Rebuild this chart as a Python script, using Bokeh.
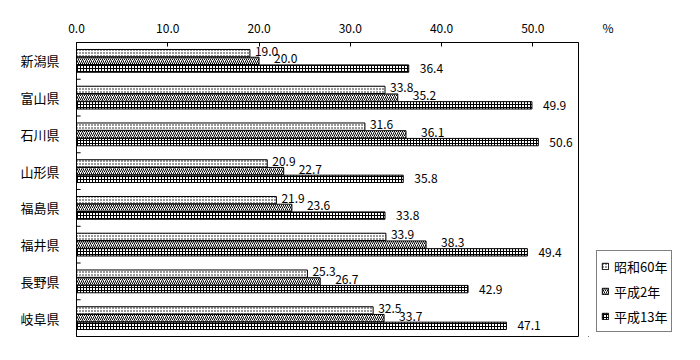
from bokeh.plotting import figure
from bokeh.layouts import row
from bokeh.models import (Range1d, FactorRange, ColumnDataSource, Legend, LegendItem,
                          FixedTicker, NumeralTickFormatter)
from bokeh.transform import dodge
from bokeh.core.properties import value
from bokeh.embed import file_html
from bokeh.resources import INLINE

categories = ["新潟県", "富山県", "石川県", "山形県", "福島県", "福井県", "長野県", "岐阜県"]
series_names = ["昭和60年", "平成2年", "平成13年"]
s60 = [19.0, 33.8, 31.6, 20.9, 21.9, 33.9, 25.3, 32.5]
h2 = [20.0, 35.2, 36.1, 22.7, 23.6, 38.3, 26.7, 33.7]
h13 = [36.4, 49.9, 50.6, 35.8, 33.8, 49.4, 42.9, 47.1]
x_ticks = [0, 10, 20, 30, 40, 50]
unit_label = "%"

JP = value("Noto Sans CJK JP")
H = 360
W_MAIN = 588
W_SIDE = 700 - W_MAIN
B_TOP, B_BOTTOM = 42, 24

src = ColumnDataSource(dict(
    cat=categories, v1=s60, v2=h2, v3=h13,
    t1=["%.1f" % v for v in s60], t2=["%.1f" % v for v in h2], t3=["%.1f" % v for v in h13],
))

p = figure(width=W_MAIN, height=H,
           x_range=Range1d(0, 55), y_range=FactorRange(factors=categories[::-1]),
           x_axis_location="above", output_backend="svg", toolbar_location=None,
           min_border_left=76, min_border_right=10, min_border_top=B_TOP, min_border_bottom=B_BOTTOM)

p.outline_line_color = "black"
p.outline_line_width = 1
p.xgrid.grid_line_color = None
p.ygrid.grid_line_color = None

p.xaxis.ticker = FixedTicker(ticks=x_ticks)
p.xaxis.formatter = NumeralTickFormatter(format="0.0")
p.xaxis.major_tick_in = 4
p.xaxis.major_tick_out = 0
p.xaxis.minor_tick_line_color = None
p.xaxis.major_label_standoff = 10
p.xaxis.major_label_text_font = "Noto Sans CJK JP"
p.xaxis.major_label_text_font_size = "12px"
p.xaxis.major_label_text_color = "black"
p.xaxis.axis_line_color = "black"

p.yaxis.major_tick_line_color = None
p.yaxis.minor_tick_line_color = None
p.yaxis.major_label_standoff = 11
p.yaxis.major_label_text_font = "Noto Sans CJK JP"
p.yaxis.major_label_text_font_size = "13px"
p.yaxis.major_label_text_color = "black"
p.yaxis.axis_line_color = "black"

step = 0.21
bh = 0.2
styles = [dict(hatch_pattern="dot", hatch_scale=3),
          dict(hatch_pattern="right_diagonal_line", hatch_scale=4),
          dict(hatch_pattern="cross", hatch_scale=3)]
base = dict(fill_color="white", line_color="black", line_width=1,
            hatch_color="black", hatch_weight=1)

p.hbar(y=dodge("cat", step, range=p.y_range), right="v1", left=0, height=bh, source=src, **base, **styles[0])
p.hbar(y=dodge("cat", 0, range=p.y_range), right="v2", left=0, height=bh, source=src, **base, **styles[1])
p.hbar(y=dodge("cat", -step, range=p.y_range), right="v3", left=0, height=bh, source=src, **base, **styles[2])

tcommon = dict(text_font=JP, text_font_size="12px", text_color="black",
               text_baseline="middle", text_align="left", source=src)
p.text(x="v1", y=dodge("cat", step, range=p.y_range), text="t1", x_offset=5, y_offset=-2, **tcommon)
p.text(x="v2", y=dodge("cat", 0, range=p.y_range), text="t2", x_offset=15, y_offset=-2, **tcommon)
p.text(x="v3", y=dodge("cat", -step, range=p.y_range), text="t3", x_offset=11, y_offset=0, **tcommon)

# small inward ticks at category boundaries on the left axis
nb = len(categories) - 1
bsrc = ColumnDataSource(dict(bcat=categories[:-1], x0=[0] * nb, x1=[0.45] * nb))
p.segment(x0="x0", x1="x1", y0=dodge("bcat", -0.5, range=p.y_range),
          y1=dodge("bcat", -0.5, range=p.y_range), line_color="black", line_width=1, source=bsrc)

# side panel: unit label (as title) and legend
s = figure(width=W_SIDE, height=H, x_range=Range1d(0, 1), y_range=Range1d(0, 1),
           x_axis_type=None, y_axis_type=None,
           output_backend="svg", toolbar_location=None, title=unit_label,
           min_border_left=0, min_border_right=0, min_border_top=B_TOP, min_border_bottom=B_BOTTOM)
s.grid.grid_line_color = None
s.outline_line_color = None
s.title.text_font = "Noto Sans CJK JP"
s.title.text_font_size = "12px"
s.title.text_font_style = "normal"
s.title.text_color = "black"
s.title.align = "left"
s.title.offset = 14
s.title.standoff = 14

# legend proxies: sit outside the visible range, only their styles are used
proxy = ColumnDataSource(dict(y=[-5], right=[-4]))
dummies = [s.hbar(y="y", right="right", left=-5, height=0.1, source=proxy, **base, **st) for st in styles]

legend = Legend(items=[LegendItem(label=n, renderers=[r]) for n, r in zip(series_names, dummies)],
                location=(8, 4), orientation="vertical",
                glyph_width=8, glyph_height=8, label_standoff=5, spacing=3,
                label_height=22, padding=4, margin=0,
                label_text_font="Noto Sans CJK JP", label_text_font_size="13px",
                label_text_color="black",
                border_line_color="black", border_line_width=1,
                background_fill_color="white", background_fill_alpha=1)
s.add_layout(legend, "center")

layout = row(p, s, spacing=0)
open("out.html", "w").write(file_html(layout, INLINE))
